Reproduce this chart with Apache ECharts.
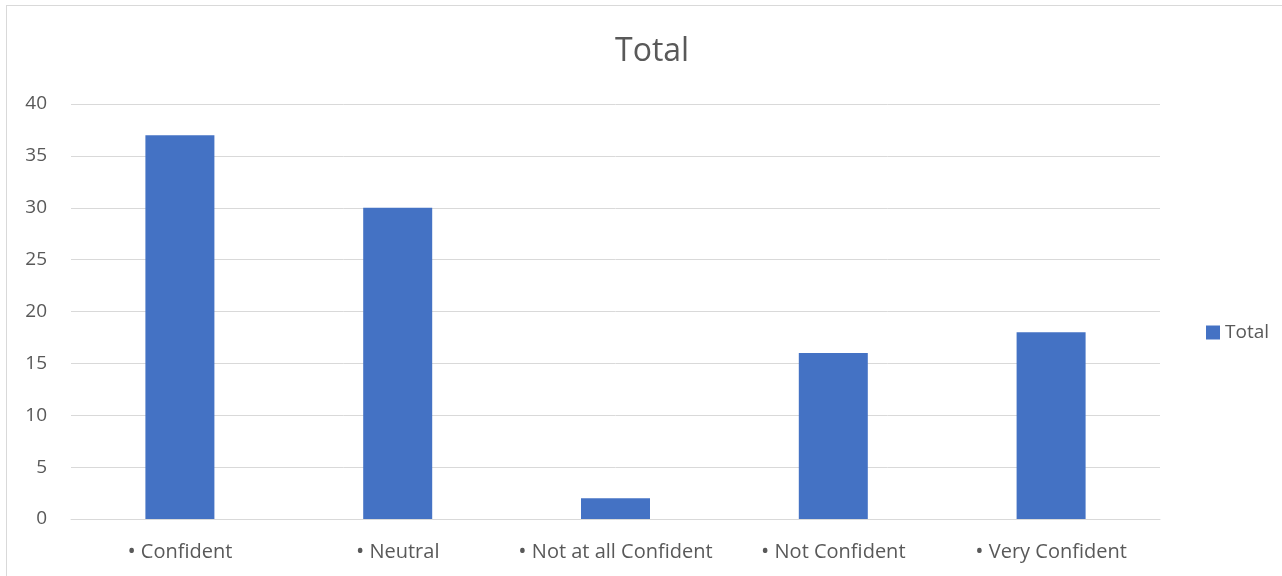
<!DOCTYPE html>
<html>
<head>
<meta charset="utf-8">
<script src="https://cdn.jsdelivr.net/npm/echarts@6/dist/echarts.min.js"></script>
<style>
  html, body { margin: 0; padding: 0; background: #fff; }
  #frame { position: absolute; left: 6px; top: 5px; width: 1290px; height: 590px; border: 1px solid #d9d9d9; box-sizing: border-box; }
  #chart { position: absolute; left: 0; top: 0; width: 1282px; height: 576px; }
</style>
</head>
<body>
<div id="frame"></div>
<div id="chart"></div>
<script>
// Confidence responses, counted per category
const categories = ['Confident', 'Neutral', 'Not at all Confident', 'Not Confident', 'Very Confident'];
const totals = [37, 30, 2, 16, 18];
const seriesName = 'Total';

const textColor = '#595959';
const font = 'Open Sans';

const chart = echarts.init(document.getElementById('chart'), null, { renderer: 'canvas' });
chart.setOption({
  animation: false,
  title: {
    text: 'Total',
    left: 610,
    top: 31,
    textStyle: { fontFamily: font, fontSize: 32, fontWeight: 'normal', color: textColor }
  },
  legend: {
    data: [seriesName],
    left: 1201,
    top: 318,
    itemWidth: 14,
    itemHeight: 14,
    itemGap: 6,
    icon: 'rect',
    textStyle: { fontFamily: font, fontSize: 19, color: textColor, padding: [0, 0, 0, 0] }
  },
  grid: { left: 71, right: 122, top: 104, bottom: 57, containLabel: false },
  xAxis: {
    type: 'category',
    data: categories,
    axisLine: { lineStyle: { color: '#d9d9d9', width: 1 } },
    axisTick: { show: false },
    axisLabel: {
      interval: 0,
      fontFamily: font, fontSize: 20, color: textColor, margin: 22,
      formatter: v => '{b|\u2022} ' + v,
      rich: { b: { fontFamily: font, fontSize: 22, color: textColor } }
    }
  },
  yAxis: {
    type: 'value',
    min: 0,
    max: 40,
    interval: 5,
    axisLine: { show: false },
    axisTick: { show: false },
    splitLine: { lineStyle: { color: '#d9d9d9', width: 1 } },
    axisLabel: { fontFamily: font, fontSize: 19, color: textColor, margin: 24 }
  },
  series: [{
    name: seriesName,
    type: 'bar',
    data: totals,
    barWidth: 69,
    itemStyle: { color: '#4472C4' }
  }]
});
</script>
</body>
</html>
